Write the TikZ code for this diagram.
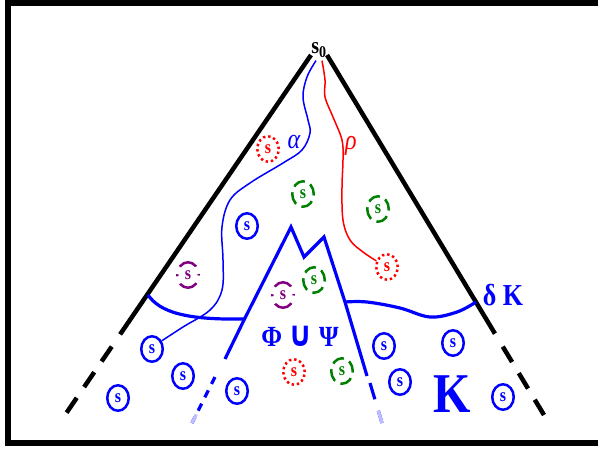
\documentclass[tikz,border=0pt]{standalone}
\usepackage{fontspec}
\setmainfont{Liberation Serif}
\newfontfamily\cupfont{DejaVu Sans}
\usepackage{graphicx}
\usetikzlibrary{calc, shapes.geometric}
\definecolor{sgreen}{RGB}{0,128,0}
\definecolor{spurple}{RGB}{128,0,128}
\newcommand{\tall}[1]{\scalebox{1}[1.17]{#1}}
\tikzset{
  sstate/.style   = {ellipse, minimum width=21.5pt, minimum height=25.5pt,
                     inner sep=0pt, line width=2.5pt,
                     font=\fontsize{16}{16}\selectfont\bfseries},
  blustate/.style = {sstate, draw=blue, text=blue},
  redstate/.style = {sstate, draw=red, text=red,
                     dash pattern=on 2.4pt off 2.87pt},
  grnstate/.style = {sstate, draw=sgreen, text=sgreen,
                     dash pattern=on 12.5pt off 6pt, dash phase=2pt},
  purstate/.style = {sstate, draw=spurple, text=spurple,
                     dash pattern=on 2pt off 8pt on 19pt off 8pt, dash phase=1pt},
  cone/.style     = {line width=4.5pt},
  conegap/.style  = {cone, dash pattern=on 18pt off 13pt},
  zone/.style     = {draw=blue, line width=3.2pt},
  pathline/.style = {line width=1.5pt},
  biglabel/.style = {text=blue, font=\fontsize{#1}{#1}\selectfont\bfseries}
}

\begin{document}
\begin{tikzpicture}[x=1pt, y=-1pt]
  \useasboundingbox (0,0) rectangle (598,448);

  % frame
  \draw[line width=6pt] (598,2.5) -| (8,443) -- (598,443);

  % the cone
  \coordinate (topL) at (311,55);
  \coordinate (botL) at (65,415);
  \coordinate (topR) at (327,55);
  \coordinate (botR) at (544,415);
  \draw[cone] (topL) -- ($(topL)!0.776!(botL)$);
  \draw[conegap] ($(topL)!0.81!(botL)$) -- (botL);
  \draw[cone] (topR) -- ($(topR)!0.774!(botR)$);
  \draw[conegap] ($(topR)!0.81!(botR)$) -- (botR);

  \node[font=\fontsize{20}{20}\selectfont\bfseries, inner sep=1pt] (s0) at (319,50) {\tall{s\textsubscript{0}}};

  % Phi U Psi region
  \draw[zone] (225,359) -- (244,320) -- (291,227) -- (304,257) -- (324,237)
    -- (345,302) -- (367,376);
  \coordinate (zl1) at (215,377);
  \coordinate (zl2) at (192,423);
  \coordinate (zr1) at (370,383);
  \coordinate (zr2) at (382,423);
  \draw[zone, dash pattern=on 7.8pt off 7.1pt] (zl1) -- (zl2);
  \draw[zone, blue!25] ($(zl1)!0.817!(zl2)$) -- (zl2);
  \draw[zone, dash pattern=on 17pt off 12pt] (zr1) -- (zr2);
  \draw[zone, blue!25] ($(zr1)!0.694!(zr2)$) -- (zr2);

  % boundary delta K
  \draw[zone] (148,295) .. controls (160,312) and (185,320) .. (244,319);
  \draw[zone] plot[smooth, tension=0.6] coordinates
    {(345,302) (367,302) (400,308) (430,317) (457,312) (476,302)};

  % states
  \node[blustate] (b1) at (247,226) {\tall{s}};
  \node[blustate] (b2) at (152,349) {\tall{s}};
  \node[blustate] (b3) at (183,376) {\tall{s}};
  \node[blustate] (b4) at (118,398) {\tall{s}};
  \node[blustate] (b5) at (237,391) {\tall{s}};
  \node[blustate] (b6) at (384,346) {\tall{s}};
  \node[blustate] (b7) at (453,343) {\tall{s}};
  \node[blustate] (b8) at (400,382) {\tall{s}};
  \node[blustate] (b9) at (503,397) {\tall{s}};
  \node[redstate] (r1) at (268,149) {\tall{s}};
  \node[redstate] (r2) at (387,267) {\tall{s}};
  \node[redstate] (r3) at (294,372) {\tall{s}};
  \node[grnstate] (g1) at (303,194) {\tall{s}};
  \node[grnstate] (g2) at (378,209) {\tall{s}};
  \node[grnstate] (g3) at (314,280) {\tall{s}};
  \node[grnstate] (g4) at (342,371) {\tall{s}};
  \node[purstate] (p1) at (188,275) {\tall{s}};
  \node[purstate] (p2) at (283,295) {\tall{s}};

  % runs alpha and rho
  \coordinate (aStart) at ([xshift=-3pt,yshift=-2pt]s0.south);
  \coordinate (rStart) at ([xshift=3pt,yshift=-2pt]s0.south);
  \draw[blue, pathline] plot[smooth, tension=0.6] coordinates
    {(aStart) (307,77) (303,97) (308,120) (310,133) (302,150) (283,163)
     (250,183) (230,200) (222,227) (223,260) (222,290) (210,310) (183,327)
     (b2.40)};
  \draw[red, pathline] plot[smooth, tension=0.6] coordinates
    {(rStart) (325,80) (325,97) (333,117) (342,140) (343,160) (342,187)
     (343,220) (350,240) (363,252) (r2.150)};

  % labels
  \node[text=blue, font=\fontsize{24}{24}\selectfont\itshape] (alab) at (294,142) {\tall{α}};
  \node[text=red, font=\fontsize{24}{24}\selectfont\itshape] (rlab) at (351,146) {\tall{ρ}};
  \node[biglabel=26] (dK) at (503,295) {\tall{δ K}};
  \node[biglabel=25] (pp) at (300,336) {\tall{Φ {\cupfont\fontsize{30}{30}\selectfont ∪} Ψ}};
  \node[biglabel=48] (K) at (452,394) {\tall{K}};
\end{tikzpicture}
\end{document}
